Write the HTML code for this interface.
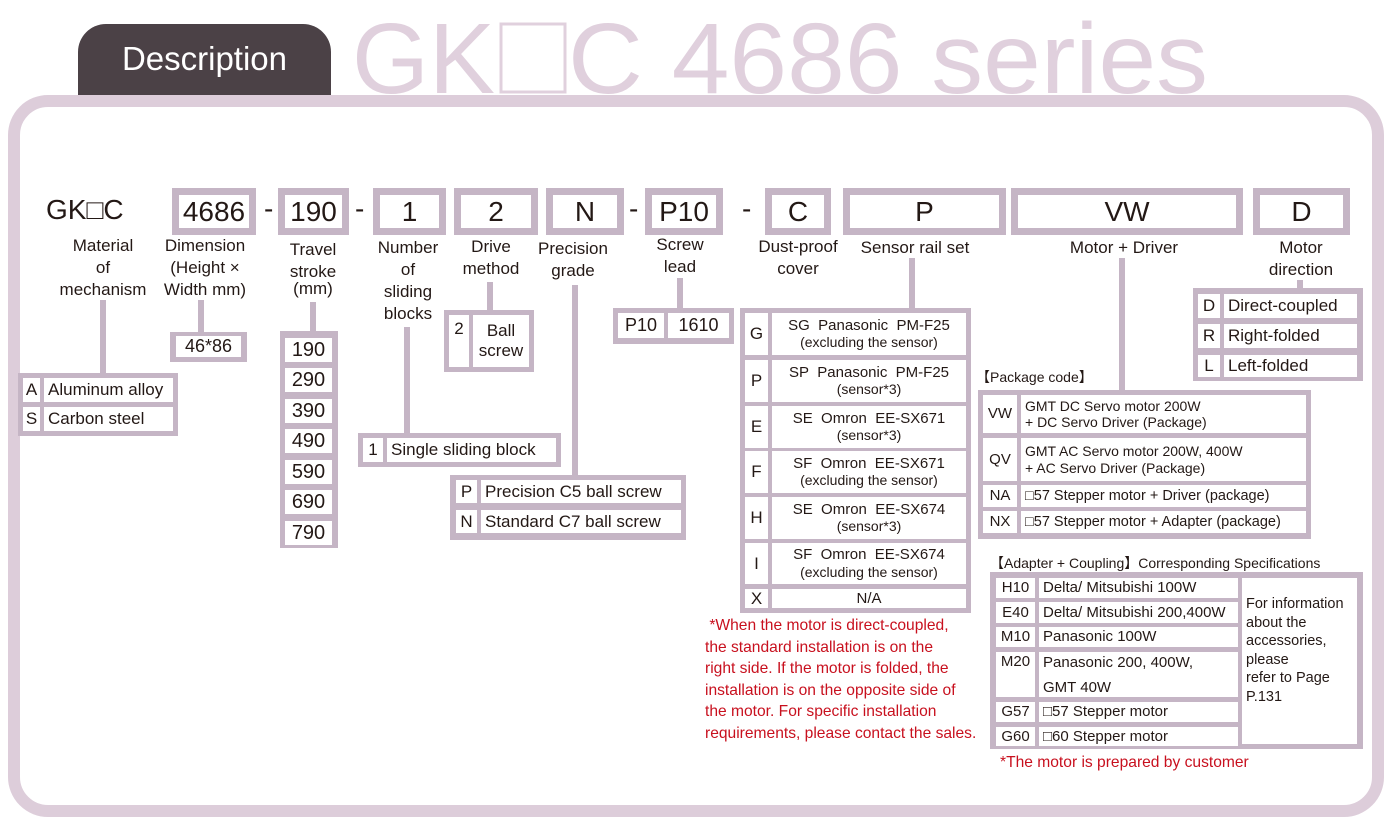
<!DOCTYPE html>
<html><head><meta charset="utf-8"><style>
*{margin:0;padding:0;box-sizing:border-box}
body{width:1391px;height:825px;background:#fff;position:relative;overflow:hidden;font-family:"Liberation Sans","DejaVu Sans",sans-serif;color:#231815}
div{position:absolute}
.g{background:#c5b5c5}
.c{background:#fff;display:flex;align-items:center;justify-content:center;font-size:17px;line-height:1.15;text-align:center;white-space:nowrap}
.c > span.w{display:block}
.l{justify-content:flex-start;padding-left:4px;text-align:left}
.t{border:7px solid #c5b5c5;background:#fff;display:flex;align-items:center;justify-content:center;font-size:28px}
.lb{font-size:17px;line-height:22px;text-align:center;white-space:nowrap;transform:translateX(-50%)}
.v{background:#c5b5c5;width:6px}
.d{font-size:28px}
.s{font-size:14px}
.r{color:#c8101e;font-size:15.6px;line-height:21.5px;white-space:nowrap}
</style></head><body>
<div style="left:8px;top:95px;width:1376px;height:722px;border:12px solid #ddcdda;border-radius:40px"></div>
<div style="left:78px;top:24px;width:253px;height:71px;background:#4b4146;border-radius:28px 28px 0 0"></div>
<div style="left:78px;top:40px;width:253px;text-align:center;color:#fff;font-size:33px">Description</div>
<svg style="position:absolute;left:0;top:0" width="1391" height="100">
<text x="352" y="93" font-family="Liberation Sans, DejaVu Sans, sans-serif" font-size="100" fill="#e0d0dd" textLength="143" lengthAdjust="spacingAndGlyphs">GK</text>
<rect x="501" y="24" width="64" height="68" fill="none" stroke="#e0d0dd" stroke-width="3"/>
<text x="568" y="93" font-family="Liberation Sans, DejaVu Sans, sans-serif" font-size="100" fill="#e0d0dd" textLength="640" lengthAdjust="spacingAndGlyphs">C 4686 series</text>
</svg>

<div style="left:46px;top:194px;font-size:28px">GK□C</div>
<div class="t" style="left:172px;top:188px;width:84px;height:47px">4686</div>
<div class="d" style="left:264px;top:193px">-</div>
<div class="t" style="left:278px;top:188px;width:71px;height:47px">190</div>
<div class="d" style="left:355px;top:193px">-</div>
<div class="t" style="left:373px;top:188px;width:73px;height:47px">1</div>
<div class="t" style="left:454px;top:188px;width:84px;height:47px">2</div>
<div class="t" style="left:546px;top:188px;width:78px;height:47px">N</div>
<div class="d" style="left:629px;top:193px">-</div>
<div class="t" style="left:645px;top:188px;width:78px;height:47px">P10</div>
<div class="d" style="left:742px;top:193px">-</div>
<div class="t" style="left:765px;top:188px;width:66px;height:47px">C</div>
<div class="t" style="left:843px;top:188px;width:163px;height:47px">P</div>
<div class="t" style="left:1011px;top:188px;width:232px;height:47px">VW</div>
<div class="t" style="left:1253px;top:188px;width:97px;height:47px">D</div>

<div class="lb" style="left:103px;top:235px">Material<br>of<br>mechanism</div>
<div class="lb" style="left:205px;top:235px">Dimension<br>(Height ×<br>Width mm)</div>
<div class="lb" style="left:313px;top:239px">Travel<br>stroke<br><span style="position:relative;top:-5px">(mm)</span></div>
<div class="lb" style="left:408px;top:237px">Number<br>of<br>sliding<br>blocks</div>
<div class="lb" style="left:491px;top:236px">Drive<br>method</div>
<div class="lb" style="left:573px;top:238px">Precision<br>grade</div>
<div class="lb" style="left:680px;top:234px">Screw<br>lead</div>
<div class="lb" style="left:798px;top:236px">Dust-proof<br>cover</div>
<div class="lb" style="left:915px;top:237px">Sensor rail set</div>
<div class="lb" style="left:1124px;top:237px">Motor + Driver</div>
<div class="lb" style="left:1301px;top:237px">Motor<br>direction</div>

<!-- material -->
<div class="v" style="left:100px;top:300px;height:75px"></div>
<div class="g" style="left:18px;top:373px;width:160px;height:63px"></div>
<div class="c" style="left:23px;top:378px;width:17px;height:24px">A</div>
<div class="c l" style="left:44px;top:378px;width:129px;height:24px">Aluminum alloy</div>
<div class="c" style="left:23px;top:407px;width:17px;height:24px">S</div>
<div class="c l" style="left:44px;top:407px;width:129px;height:24px">Carbon steel</div>
<!-- dim -->
<div class="v" style="left:198px;top:300px;height:33px"></div>
<div class="g" style="left:170px;top:332px;width:77px;height:30px"></div>
<div class="c" style="left:176px;top:336px;width:65px;height:21px;font-size:18px">46*86</div>
<!-- travel -->
<div class="v" style="left:310px;top:302px;height:30px"></div>
<div class="g" style="left:280px;top:331px;width:58px;height:217px"></div>
<div class="c" style="left:285px;top:338px;width:47px;height:24px;font-size:20px">190</div>
<div class="c" style="left:285px;top:368px;width:47px;height:24px;font-size:20px">290</div>
<div class="c" style="left:285px;top:399px;width:47px;height:24px;font-size:20px">390</div>
<div class="c" style="left:285px;top:429px;width:47px;height:24px;font-size:20px">490</div>
<div class="c" style="left:285px;top:460px;width:47px;height:24px;font-size:20px">590</div>
<div class="c" style="left:285px;top:490px;width:47px;height:24px;font-size:20px">690</div>
<div class="c" style="left:285px;top:521px;width:47px;height:24px;font-size:20px">790</div>
<!-- sliding -->
<div class="v" style="left:404px;top:327px;height:107px"></div>
<div class="g" style="left:358px;top:433px;width:203px;height:34px"></div>
<div class="c" style="left:363px;top:438px;width:20px;height:24px">1</div>
<div class="c l" style="left:387px;top:438px;width:169px;height:24px">Single sliding block</div>
<!-- drive -->
<div class="v" style="left:487px;top:282px;height:29px"></div>
<div class="g" style="left:444px;top:310px;width:90px;height:62px"></div>
<div class="c" style="left:449px;top:315px;width:20px;height:52px;align-items:flex-start;padding-top:4px">2</div>
<div class="c" style="left:473px;top:315px;width:56px;height:52px"><span class="w">Ball<br>screw</span></div>
<!-- precision -->
<div class="v" style="left:572px;top:285px;height:191px"></div>
<div class="g" style="left:450px;top:475px;width:236px;height:65px"></div>
<div class="c" style="left:456px;top:480px;width:21px;height:23px">P</div>
<div class="c l" style="left:481px;top:480px;width:200px;height:23px">Precision C5 ball screw</div>
<div class="c" style="left:456px;top:510px;width:21px;height:23px">N</div>
<div class="c l" style="left:481px;top:510px;width:200px;height:23px">Standard C7 ball screw</div>
<!-- screw lead -->
<div class="v" style="left:677px;top:278px;height:31px"></div>
<div class="g" style="left:613px;top:308px;width:121px;height:36px"></div>
<div class="c" style="left:618px;top:313px;width:46px;height:25px;font-size:18px">P10</div>
<div class="c" style="left:668px;top:313px;width:61px;height:25px;font-size:18px">1610</div>
<!-- sensor -->
<div class="v" style="left:909px;top:258px;height:51px"></div>
<div class="g" style="left:740px;top:308px;width:231px;height:305px"></div>
<div class="c" style="left:745px;top:313px;width:23px;height:42px">G</div>
<div class="c" style="left:772px;top:313px;width:194px;height:42px;font-size:15px"><span class="w">SG&nbsp; Panasonic&nbsp; PM-F25<br><span class="s">(excluding the sensor)</span></span></div>
<div class="c" style="left:745px;top:360px;width:23px;height:42px">P</div>
<div class="c" style="left:772px;top:360px;width:194px;height:42px;font-size:15px"><span class="w">SP&nbsp; Panasonic&nbsp; PM-F25<br><span class="s">(sensor*3)</span></span></div>
<div class="c" style="left:745px;top:406px;width:23px;height:42px">E</div>
<div class="c" style="left:772px;top:406px;width:194px;height:42px;font-size:15px"><span class="w">SE&nbsp; Omron&nbsp; EE-SX671<br><span class="s">(sensor*3)</span></span></div>
<div class="c" style="left:745px;top:451px;width:23px;height:42px">F</div>
<div class="c" style="left:772px;top:451px;width:194px;height:42px;font-size:15px"><span class="w">SF&nbsp; Omron&nbsp; EE-SX671<br><span class="s">(excluding the sensor)</span></span></div>
<div class="c" style="left:745px;top:497px;width:23px;height:42px">H</div>
<div class="c" style="left:772px;top:497px;width:194px;height:42px;font-size:15px"><span class="w">SE&nbsp; Omron&nbsp; EE-SX674<br><span class="s">(sensor*3)</span></span></div>
<div class="c" style="left:745px;top:543px;width:23px;height:41px">I</div>
<div class="c" style="left:772px;top:543px;width:194px;height:41px;font-size:15px"><span class="w">SF&nbsp; Omron&nbsp; EE-SX674<br><span class="s">(excluding the sensor)</span></span></div>
<div class="c" style="left:745px;top:589px;width:23px;height:19px">X</div>
<div class="c" style="left:772px;top:589px;width:194px;height:19px;font-size:15px">N/A</div>
<div class="r" style="left:705px;top:615px">&nbsp;*When the motor is direct-coupled,<br>the standard installation is on the<br>right side. If the motor is folded, the<br>installation is on the opposite side of<br>the motor. For specific installation<br>requirements, please contact the sales.</div>
<!-- motor driver -->
<div class="v" style="left:1119px;top:258px;height:133px"></div>
<div style="left:976px;top:367px;font-size:14px">【Package code】</div>
<div class="g" style="left:978px;top:390px;width:333px;height:149px"></div>
<div class="c" style="left:983px;top:395px;width:34px;height:38px;font-size:15px">VW</div>
<div class="c l" style="left:1021px;top:395px;width:285px;height:38px;font-size:14px"><span class="w">GMT DC Servo motor 200W<br>+ DC Servo Driver (Package)</span></div>
<div class="c" style="left:983px;top:438px;width:34px;height:43px;font-size:15px">QV</div>
<div class="c l" style="left:1021px;top:438px;width:285px;height:43px;font-size:14px"><span class="w">GMT AC Servo motor 200W, 400W<br>+ AC Servo Driver (Package)</span></div>
<div class="c" style="left:983px;top:485px;width:34px;height:22px;font-size:15px">NA</div>
<div class="c l" style="left:1021px;top:485px;width:285px;height:22px;font-size:14.5px">□57 Stepper motor + Driver (package)</div>
<div class="c" style="left:983px;top:511px;width:34px;height:22px;font-size:15px">NX</div>
<div class="c l" style="left:1021px;top:511px;width:285px;height:22px;font-size:14.5px">□57 Stepper motor + Adapter (package)</div>
<!-- direction -->
<div class="v" style="left:1297px;top:280px;height:10px"></div>
<div class="g" style="left:1193px;top:288px;width:170px;height:93px"></div>
<div class="c" style="left:1198px;top:294px;width:22px;height:24px">D</div>
<div class="c l" style="left:1224px;top:294px;width:133px;height:24px">Direct-coupled</div>
<div class="c" style="left:1198px;top:324px;width:22px;height:24px">R</div>
<div class="c l" style="left:1224px;top:324px;width:133px;height:24px">Right-folded</div>
<div class="c" style="left:1198px;top:355px;width:22px;height:22px">L</div>
<div class="c l" style="left:1224px;top:355px;width:133px;height:22px">Left-folded</div>
<!-- adapter -->
<div style="left:990px;top:553px;font-size:14px">【Adapter + Coupling】Corresponding Specifications</div>
<div class="g" style="left:990px;top:572px;width:373px;height:177px"></div>
<div class="c" style="left:996px;top:578px;width:39px;height:20px;font-size:15px">H10</div>
<div class="c l" style="left:1039px;top:578px;width:199px;height:20px;font-size:15px">Delta/ Mitsubishi 100W</div>
<div class="c" style="left:996px;top:602px;width:39px;height:21px;font-size:15px">E40</div>
<div class="c l" style="left:1039px;top:602px;width:199px;height:21px;font-size:15px">Delta/ Mitsubishi 200,400W</div>
<div class="c" style="left:996px;top:627px;width:39px;height:20px;font-size:15px">M10</div>
<div class="c l" style="left:1039px;top:627px;width:199px;height:20px;font-size:15px">Panasonic 100W</div>
<div class="c" style="left:996px;top:652px;width:39px;height:45px;font-size:15px;align-items:flex-start;padding-top:1px">M20</div>
<div class="c l" style="left:1039px;top:652px;width:199px;height:45px;font-size:15px;line-height:25px"><span class="w">Panasonic 200, 400W,<br>GMT 40W</span></div>
<div class="c" style="left:996px;top:702px;width:39px;height:20px;font-size:15px">G57</div>
<div class="c l" style="left:1039px;top:702px;width:199px;height:20px;font-size:15px">□57 Stepper motor</div>
<div class="c" style="left:996px;top:727px;width:39px;height:19px;font-size:15px">G60</div>
<div class="c l" style="left:1039px;top:727px;width:199px;height:19px;font-size:15px">□60 Stepper motor</div>
<div class="c l" style="left:1242px;top:578px;width:115px;height:166px;font-size:14.5px;line-height:18.5px;align-items:flex-start;padding-top:17px"><span class="w">For information<br>about the<br>accessories,<br>please<br>refer to Page<br>P.131</span></div>
<div class="r" style="left:1000px;top:752px">*The motor is prepared by customer</div>
</body></html>
